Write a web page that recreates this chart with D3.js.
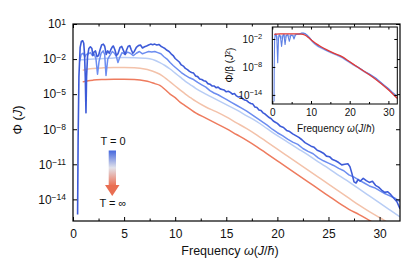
<!DOCTYPE html>
<html><head><meta charset="utf-8">
<script src="https://cdn.jsdelivr.net/npm/d3@7/dist/d3.min.js"></script>
<style>
body{margin:0;background:#fff}
svg{display:block}
text{font-family:"Liberation Sans",Arial,Helvetica,sans-serif;fill:#111}
</style>
</head><body>
<svg id="c" width="415" height="270"></svg>
<script>
// ---------------- DATA (log10 of Φ) ----------------
const xTicks = [0, 5, 10, 15, 20, 25, 30];
const xMinorTicks = [2.5, 7.5, 12.5, 17.5, 22.5, 27.5];
const yTickExps = [1, -2, -5, -8, -11, -14];
const insetXTicks = [0, 10, 20, 30];
const insetXMinor = [5, 15, 25];
const insetYTickExps = [-2, -8, -14];

// smooth curves share a frequency grid
const freqSmooth = [0.7, 0.95, 1.5, 2, 3, 4, 5, 6, 7, 7.5, 8, 8.5, 9, 9.5, 10, 10.5, 11, 11.5, 12, 13, 14, 15, 16, 17, 18, 19, 20, 21, 22, 23, 24, 25, 26, 27, 28, 29, 30, 31, 32];
const logPhiLight = [-2.05,-2.05,-2.02,-2.0,-1.95,-1.9,-1.87,-1.88,-1.93,-1.98,-2.1,-2.3,-2.55,-2.85,-3.2,-3.55,-3.9,-4.2,-4.5,-5.0,-5.45,-5.9,-6.35,-6.85,-7.35,-7.95,-8.55,-9.1,-9.65,-10.2,-10.8,-11.35,-11.95,-12.5,-13.1,-13.7,-14.3,-14.9,-15.5];
const logPhiPeach = [null,-2.95,-2.85,-2.8,-2.75,-2.72,-2.72,-2.75,-2.85,-2.95,-3.1,-3.3,-3.6,-3.95,-4.3,-4.65,-5.0,-5.3,-5.6,-6.1,-6.5,-6.95,-7.45,-7.95,-8.5,-9.1,-9.7,-10.3,-10.9,-11.5,-12.1,-12.7,-13.3,-13.9,-14.5,-15.05,-15.55,-16.1,-16.7];
const logPhiRed = [null,-3.95,-3.85,-3.8,-3.75,-3.72,-3.72,-3.75,-3.85,-3.95,-4.1,-4.25,-4.6,-5.0,-5.3,-5.7,-6.0,-6.3,-6.6,-7.05,-7.5,-7.95,-8.45,-8.95,-9.5,-10.1,-10.7,-11.3,-11.9,-12.5,-13.1,-13.7,-14.3,-14.85,-15.3,-15.8,-16.3,-16.9,-17.5];

const freqMedium = [0.65,0.8,1.0,1.15,1.3,1.5,1.7,1.9,2.1,2.25,2.4,2.55,2.75,2.95,3.1,3.23,3.4,3.6,3.85,4.05,4.25,4.4,4.55,4.8,5.1,5.35,5.6,5.9,6.2,6.5,6.8,7.1,7.4,7.7,8.0,8.3,8.6,8.9,9.2,9.5,9.8,10.2,10.6,11.0,11.4,11.8,12.2,12.6,13.0,13.4,13.8,14.2,14.6,15.0,15.5,16.0,16.5,17.0,17.5,18.0,18.5,19.0,19.5,20.0,20.5,21.0,21.5,22.0,22.5,23.0,23.5,24.0,24.5,25.0,25.5,26.0,26.5,27.0,27.5,28.0,28.5,29.0,29.5,30.0,30.5,31.0,31.5,32.0];
const logPhiMedium = [-2.2,-1.6,-1.5,-1.8,-1.6,-1.55,-1.45,-1.7,-1.6,-2.0,-3.3,-2.2,-1.5,-1.3,-1.6,-3.4,-2.0,-1.7,-1.35,-1.5,-1.8,-2.3,-1.9,-1.45,-1.6,-1.4,-1.5,-1.7,-1.5,-1.35,-1.55,-1.45,-1.35,-1.4,-1.35,-1.45,-1.55,-1.8,-2.0,-2.3,-2.55,-2.85,-3.15,-3.4,-3.6,-3.75,-4.0,-4.2,-4.4,-4.7,-4.9,-5.05,-5.25,-5.45,-5.7,-5.95,-6.2,-6.45,-6.75,-7.05,-7.35,-7.65,-8.0,-8.3,-8.55,-8.85,-9.1,-9.3,-9.65,-9.9,-10.1,-10.45,-10.7,-10.9,-11.1,-11.35,-11.55,-11.9,-12.1,-12.35,-12.6,-12.85,-13.0,-13.25,-13.5,-13.7,-13.9,-14.2];

const freqDark = [0.45,0.5,0.58,0.7,0.82,0.95,1.05,1.13,1.2,1.27,1.33,1.42,1.55,1.7,1.85,1.95,2.05,2.2,2.35,2.5,2.65,2.8,2.97,3.1,3.25,3.4,3.55,3.7,3.85,3.95,4.1,4.25,4.4,4.6,4.77,4.95,5.1,5.25,5.4,5.55,5.7,5.85,6.0,6.2,6.4,6.6,6.8,7.0,7.2,7.4,7.6,7.8,8.0,8.2,8.4,8.6,8.8,9.0,9.2,9.4,9.6,9.8,10.0,10.2,10.4,10.6,10.8,11.0,11.2,11.4,11.6,11.8,12.0,12.2,12.4,12.6,12.8,13.0,13.2,13.4,13.6,13.8,14.0,14.2,14.4,14.6,14.8,15.0,15.2,15.4,15.6,15.8,16.0,16.2,16.4,16.6,16.8,17.0,17.2,17.4,17.6,17.8,18.0,18.2,18.4,18.6,18.8,19.0,19.2,19.4,19.6,19.8,20.0,20.3,20.6,20.9,21.2,21.5,21.8,22.1,22.4,22.7,23.0,23.3,23.6,23.9,24.2,24.5,24.8,25.1,25.4,25.7,26.0,26.3,26.6,26.9,27.1,27.3,27.5,27.7,27.9,28.1,28.4,28.7,29.0,29.3,29.6,29.9,30.2,30.5,30.8,31.1,31.4,31.7,32.0];
const logPhiDark = [-15.3,-9,-3.5,-1.0,-0.5,-0.43,-0.65,-1.6,-3.5,-6.6,-3.5,-1.8,-1.1,-0.95,-1.1,-1.7,-1.4,-1.3,-1.8,-1.7,-1.2,-0.8,-0.72,-0.9,-1.6,-1.3,-1.5,-1.2,-0.95,-0.88,-1.2,-1.7,-1.55,-1.0,-0.92,-1.3,-1.6,-1.2,-0.9,-0.85,-1.2,-1.5,-1.35,-1.0,-0.85,-0.8,-1.05,-0.95,-0.88,-0.8,-0.72,-0.78,-0.72,-0.8,-0.75,-0.9,-1.0,-1.1,-1.25,-1.35,-1.55,-1.7,-1.95,-2.1,-2.25,-2.5,-2.6,-2.8,-2.9,-3.05,-3.15,-3.2,-3.45,-3.5,-3.7,-3.75,-3.85,-3.9,-4.1,-4.15,-4.3,-4.3,-4.45,-4.4,-4.55,-4.6,-4.65,-4.8,-4.75,-4.85,-5.0,-4.95,-5.15,-5.25,-5.2,-5.4,-5.5,-5.55,-5.7,-5.8,-5.85,-6.1,-6.15,-6.35,-6.4,-6.6,-6.7,-6.85,-7.0,-7.1,-7.3,-7.4,-7.5,-7.75,-7.85,-8.1,-8.2,-8.4,-8.55,-8.7,-8.9,-9.15,-9.3,-9.45,-9.55,-9.8,-9.9,-10.05,-10.3,-10.35,-10.6,-10.7,-10.85,-11.05,-11.0,-10.95,-11.2,-11.8,-12.5,-12.6,-12.3,-12.45,-12.2,-12.4,-12.55,-12.45,-12.8,-12.95,-13.2,-13.4,-13.35,-13.6,-13.9,-14.2,-14.8];

// inset: Φ/β
const insetFreqBlue = [0.45,0.5,0.6,0.8,1.0,1.2,1.4,1.6,1.8,2.1,2.4,2.7,3.0,3.3,3.6,4.0,4.4,4.8,5.3,5.6,6.0,6.5,7.0,7.5,8.0,8.5,9.0,9.5,10.0,10.5,11.0,11.5,12.0,13.0,14.0,15.0,16.0,17.0,18.0,19.0,20.0,21.0,22.0,23.0,24.0,25.0,26.0,27.0,28.0,29.0,30.0,31.0,32.0];
const insetLogBlue = [-15.4,-8,-2,-0.9,-1.0,-2.5,-7.1,-2.0,-1.1,-1.5,-3.6,-1.4,-1.0,-3.2,-1.3,-1.1,-2.5,-1.2,-1.3,-2.0,-1.1,-1.0,-0.9,-0.75,-0.75,-0.85,-1.2,-1.6,-2.1,-2.6,-3.0,-3.3,-3.6,-4.0,-4.45,-4.8,-5.15,-5.5,-5.9,-6.45,-6.95,-7.5,-7.95,-8.5,-9.05,-9.45,-10.0,-10.55,-11.25,-11.95,-12.6,-13.4,-14.1];
const insetLogBlueLight = [null,null,-1.3,-1.1,-1.2,-1.6,-2.2,-1.5,-1.2,-1.3,-1.8,-1.2,-1.1,-1.7,-1.2,-1.1,-1.5,-1.1,-1.2,-1.4,-1.05,-1.0,-0.95,-0.85,-0.85,-0.95,-1.3,-1.7,-2.2,-2.7,-3.1,-3.4,-3.7,-4.1,-4.5,-4.9,-5.25,-5.6,-6.0,-6.55,-7.05,-7.6,-8.05,-8.6,-9.15,-9.6,-10.15,-10.7,-11.4,-12.1,-12.8,-13.6,-14.4];
const insetFreqRed = [0.5,1,2,4,6,7.5,8.5,9.5,10.5,11.5,12.5,14,16,18,20,22,24,26,28,30,32,32.5];
const insetLogRed = [-1.0,-0.95,-0.9,-0.9,-0.92,-0.95,-1.2,-1.8,-2.5,-3.1,-3.6,-4.3,-5.1,-5.8,-6.9,-8.0,-9.1,-10.2,-11.5,-12.9,-14.5,-14.9];

// ---------------- DRAWING ----------------
const svg = d3.select('#c');
const FONT = '"Liberation Sans",Arial,sans-serif';
const L = 73, R = 400, T = 24, B = 221;
const x = d3.scaleLinear().domain([0, 32]).range([L, R]);
const y = d3.scaleLog().domain([Math.pow(10, -15.85), 10]).range([B, T]);

const defs = svg.append('defs');
defs.append('clipPath').attr('id', 'mainClip').append('rect')
  .attr('x', L).attr('y', T).attr('width', R - L).attr('height', B - T);

function series(freqs, logs) {
  return freqs.map((f, i) => ({ f, v: logs[i] == null ? null : Math.pow(10, logs[i]) }));
}

const colors = {
  dark: '#3d5bd8', medium: '#6c8df0', light: '#b8cdf5', peach: '#f3c2aa', red: '#ee7b5e'
};

function drawLine(g, data, xs, ys, color, width, curve) {
  const line = d3.line().defined(d => d.v != null).x(d => xs(d.f)).y(d => ys(d.v)).curve(curve || d3.curveLinear);
  g.append('path').datum(data).attr('d', line).attr('fill', 'none')
    .attr('stroke', color).attr('stroke-width', width).attr('stroke-linejoin', 'round');
}

const plot = svg.append('g').attr('clip-path', 'url(#mainClip)');
drawLine(plot, series(freqSmooth, logPhiRed), x, y, colors.red, 1.5, d3.curveMonotoneX);
drawLine(plot, series(freqSmooth, logPhiPeach), x, y, colors.peach, 1.5, d3.curveMonotoneX);
drawLine(plot, series(freqSmooth, logPhiLight), x, y, colors.light, 1.5, d3.curveMonotoneX);
drawLine(plot, series(freqMedium, logPhiMedium), x, y, colors.medium, 1.5);
drawLine(plot, series(freqDark, logPhiDark), x, y, colors.dark, 1.6);

// superscript label helper
function powLabel(sel, e, supSize) {
  sel.text(null);
  sel.append('tspan').text('10');
  sel.append('tspan').attr('dy', '-0.45em').attr('font-size', supSize)
    .text(e < 0 ? '\u2212' + Math.abs(e) : String(e));
}

// axes main
const fs = 12;
const axB = svg.append('g').attr('transform', `translate(0,${B})`)
  .call(d3.axisBottom(x).tickValues(xTicks).tickSize(-4).tickPadding(8).tickFormat(d3.format('d')));
axB.selectAll('text').attr('font-size', fs).attr('font-family', FONT);
svg.append('g').attr('transform', `translate(0,${B})`)
  .call(d3.axisBottom(x).tickValues(xMinorTicks).tickSize(-2.5).tickFormat(''));
svg.append('g').attr('transform', `translate(0,${T})`)
  .call(d3.axisTop(x).tickValues(xTicks).tickSize(-4).tickFormat(''));
svg.append('g').attr('transform', `translate(0,${T})`)
  .call(d3.axisTop(x).tickValues(xMinorTicks).tickSize(-2.5).tickFormat(''));

const yTickVals = yTickExps.map(e => Math.pow(10, e));
const axL = svg.append('g').attr('transform', `translate(${L},0)`)
  .call(d3.axisLeft(y).tickValues(yTickVals).tickSize(-4).tickPadding(7).tickFormat(''));
axL.selectAll('.tick text').each(function(d) {
  const e = Math.round(Math.log10(d));
  powLabel(d3.select(this).attr('font-size', fs).attr('font-family', FONT), e, 8.5);
});
svg.append('g').attr('transform', `translate(${R},0)`)
  .call(d3.axisRight(y).tickValues(yTickVals).tickSize(-4).tickFormat(''));

svg.selectAll('.domain').remove();
svg.selectAll('.tick line').attr('stroke', '#000').attr('stroke-width', 1);
svg.append('rect').attr('x', L).attr('y', T).attr('width', R - L).attr('height', B - T)
  .attr('fill', 'none').attr('stroke', '#000').attr('stroke-width', 1.2);

// axis titles
const xt = svg.append('text').attr('x', 230).attr('y', 255).attr('text-anchor', 'middle').attr('font-size', 12.5);
xt.append('tspan').text('Frequency ');
xt.append('tspan').attr('font-style', 'italic').text('\u03c9');
xt.append('tspan').text('(');
xt.append('tspan').attr('font-style', 'italic').text('J');
xt.append('tspan').text('/');
xt.append('tspan').attr('font-style', 'italic').text('\u0127');
xt.append('tspan').text(')');

const yt = svg.append('text').attr('transform', 'translate(22,120) rotate(-90)')
  .attr('text-anchor', 'middle').attr('font-size', 13);
yt.append('tspan').text('\u03a6 (');
yt.append('tspan').attr('font-style', 'italic').text('J');
yt.append('tspan').text(')');

// legend arrow
const grad = defs.append('linearGradient').attr('id', 'tgrad').attr('x1', 0).attr('y1', 0).attr('x2', 0).attr('y2', 1);
grad.append('stop').attr('offset', '0%').attr('stop-color', '#4467de');
grad.append('stop').attr('offset', '50%').attr('stop-color', '#e2e2ea');
grad.append('stop').attr('offset', '100%').attr('stop-color', '#ec7459');
svg.append('rect').attr('x', 108.7).attr('y', 150.5).attr('width', 7.3).attr('height', 34.7).attr('fill', 'url(#tgrad)');
svg.append('path').attr('d', 'M105,185 L119.5,185 L112.25,196 Z').attr('fill', '#e96e52');
svg.append('text').attr('x', 113).attr('y', 145).attr('text-anchor', 'middle').attr('font-size', 11).text('T = 0');
svg.append('text').attr('x', 113).attr('y', 207).attr('text-anchor', 'middle').attr('font-size', 11).text('T = \u221e');

// ---------------- INSET ----------------
const iL = 272.3, iR = 397.3, iT = 27, iB = 104;
const xi = d3.scaleLinear().domain([0, 32.3]).range([iL, iR]);
const yi = d3.scaleLog().domain([Math.pow(10, -15.95), Math.pow(10, 0.57)]).range([iB, iT]);
svg.append('rect').attr('x', iL).attr('y', iT).attr('width', iR - iL).attr('height', iB - iT).attr('fill', '#fff');
defs.append('clipPath').attr('id', 'insetClip').append('rect')
  .attr('x', iL).attr('y', iT).attr('width', iR - iL).attr('height', iB - iT);
const ig = svg.append('g').attr('clip-path', 'url(#insetClip)');
drawLine(ig, series(insetFreqBlue, insetLogBlueLight), xi, yi, '#a9c0f4', 1.6);
drawLine(ig, series(insetFreqBlue, insetLogBlue), xi, yi, '#5f80e4', 1.1);
drawLine(ig, series(insetFreqRed, insetLogRed), xi, yi, '#e23a36', 1.3, d3.curveMonotoneX);

const ifs = 10;
const iax = svg.append('g').attr('class', 'inset');
const ixB = iax.append('g').attr('transform', `translate(0,${iB})`)
  .call(d3.axisBottom(xi).tickValues(insetXTicks).tickSize(-3).tickPadding(5).tickFormat(d3.format('d')));
ixB.selectAll('text').attr('font-size', ifs).attr('font-family', FONT);
iax.append('g').attr('transform', `translate(0,${iB})`)
  .call(d3.axisBottom(xi).tickValues(insetXMinor).tickSize(-2).tickFormat(''));
iax.append('g').attr('transform', `translate(0,${iT})`)
  .call(d3.axisTop(xi).tickValues(insetXTicks.concat(insetXMinor)).tickSize(-2.5).tickFormat(''));
const iyVals = insetYTickExps.map(e => Math.pow(10, e));
const iyL = iax.append('g').attr('transform', `translate(${iL},0)`)
  .call(d3.axisLeft(yi).tickValues(iyVals).tickSize(-3).tickPadding(10).tickFormat(''));
iyL.selectAll('.tick text').each(function(d) {
  const e = Math.round(Math.log10(d));
  powLabel(d3.select(this).attr('font-size', 10).attr('font-family', FONT), e, 7.5);
});
iax.append('g').attr('transform', `translate(${iR},0)`)
  .call(d3.axisRight(yi).tickValues(iyVals).tickSize(-3).tickFormat(''));
iax.selectAll('.domain').remove();
iax.selectAll('.tick line').attr('stroke', '#000');
svg.append('rect').attr('x', iL).attr('y', iT).attr('width', iR - iL).attr('height', iB - iT)
  .attr('fill', 'none').attr('stroke', '#000').attr('stroke-width', 1);

const ixt = svg.append('text').attr('x', 336).attr('y', 132).attr('text-anchor', 'middle').attr('font-size', 10);
ixt.append('tspan').text('Frequency ');
ixt.append('tspan').attr('font-style', 'italic').text('\u03c9');
ixt.append('tspan').text('(');
ixt.append('tspan').attr('font-style', 'italic').text('J');
ixt.append('tspan').text('/');
ixt.append('tspan').attr('font-style', 'italic').text('\u0127');
ixt.append('tspan').text(')');

const iyt = svg.append('text').attr('transform', 'translate(233,65) rotate(-90)')
  .attr('text-anchor', 'middle').attr('font-size', 10);
iyt.append('tspan').text('\u03a6/\u03b2 (');
iyt.append('tspan').attr('font-style', 'italic').text('J');
iyt.append('tspan').attr('dy', '-0.4em').attr('font-size', 7).text('2');
iyt.append('tspan').attr('dy', '0.4em').text(')');
</script>
</body></html>
